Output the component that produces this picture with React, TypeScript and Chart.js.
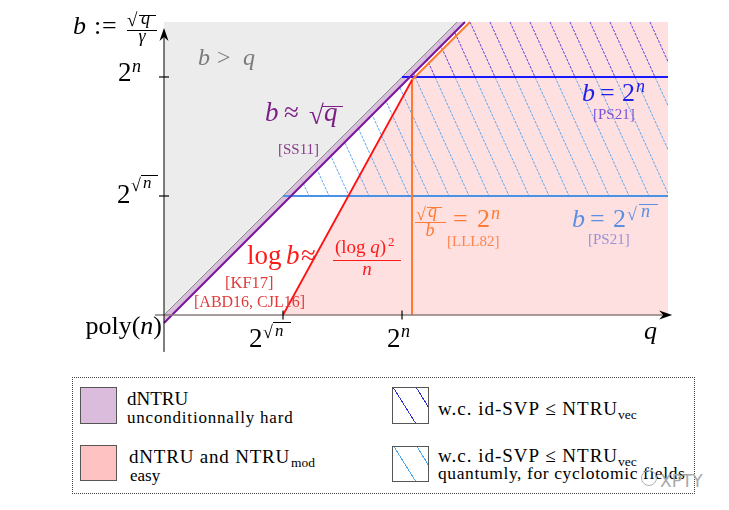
import React, { useEffect, useRef } from 'react';
import { Chart, registerables } from 'chart.js';
Chart.register(...registerables);

// ---------- data (conceptual units: 1 unit = one "tick step") ----------
const X_MAX = 4.235;
const Y_MAX = 2.462;
const xTickValues = [1, 2];
const yTickValues = [1, 2];
const grayDiagonal = [{ x: 0, y: 0 }, { x: 2.462, y: 2.462 }];
const purpleDiagonal = [{ x: 0, y: -0.067 }, { x: 2.529, y: 2.462 }];
const redCurve = [{ x: 1, y: 0 }, { x: 2.084, y: 1.975 }];
const orangeCurve = [{ x: 2.084, y: 0 }, { x: 2.084, y: 1.975 }, { x: 2.571, y: 2.462 }];
const blueLevel = [{ x: 2, y: 2 }, { x: X_MAX, y: 2 }];
const lightBlueLevel = [{ x: 1, y: 1 }, { x: X_MAX, y: 1 }];
const grayRegion = [{ x: 0, y: 0 }, { x: 0, y: Y_MAX }, { x: 2.462, y: Y_MAX }];
const hardBand = [{ x: 0, y: 0 }, { x: 2.462, y: Y_MAX }, { x: 2.529, y: Y_MAX }, { x: 0, y: -0.067 }];
const easyRegion = [{ x: 1, y: 0 }, { x: X_MAX, y: 0 }, { x: X_MAX, y: Y_MAX }, { x: 2.571, y: Y_MAX }, { x: 2.084, y: 1.975 }];
const quantumHatch = [{ x: 1, y: 1 }, { x: X_MAX, y: 1 }, { x: X_MAX, y: 2 }, { x: 2, y: 2 }];
const classicHatch = [{ x: 2, y: 2 }, { x: X_MAX, y: 2 }, { x: X_MAX, y: Y_MAX }, { x: 2.462, y: Y_MAX }];
const xAxisExtent = [-0.076, 4.27];
const yAxisExtent = [-0.31, 2.412];

const W = 729;
const SERIF = "'Liberation Serif','Times New Roman',serif";

function makeHatch(color: string) {
  const c = document.createElement('canvas');
  const w = 20, h = 44;
  c.width = w; c.height = h;
  const g = c.getContext('2d')!;
  g.strokeStyle = color;
  g.lineWidth = 1;
  g.setLineDash([2.8, 1.23]);
  for (const off of [-w, 0, w]) {
    g.beginPath();
    g.moveTo(off, 0);
    g.lineTo(off + w, h);
    g.stroke();
  }
  return g.createPattern(c, 'repeat')!;
}

function T({ x, y, s, c = '#000', i = false, a = 'start', ls = 0, f = SERIF, children }: any) {
  const style: any = {
    position: 'absolute', top: y - 0.8374 * s, fontSize: s, lineHeight: 1, color: c,
    fontStyle: i ? 'italic' : 'normal', whiteSpace: 'nowrap', fontFamily: f, letterSpacing: ls,
  };
  if (a === 'start') style.left = x;
  else if (a === 'end') style.right = W - x;
  else { style.left = x; style.transform = 'translateX(-50%)'; }
  return <span style={style}>{children}</span>;
}

function Bar({ x1, x2, y, c = '#000', w = 1 }: any) {
  return <div style={{ position: 'absolute', left: x1, top: y - w / 2, width: x2 - x1, height: w, background: c }} />;
}

function Swatch({ x, y, w, h, bg }: any) {
  return <div style={{ position: 'absolute', left: x, top: y, width: w, height: h, background: bg, border: '1.5px solid #555', boxSizing: 'border-box' }} />;
}

const hatchCss = (col: string) =>
  `repeating-linear-gradient(58deg, transparent 0px, transparent 18.5px, ${col} 18.5px, ${col} 19.5px)`;

export default function App() {
  const ref = useRef<HTMLCanvasElement>(null);
  useEffect(() => {
    const canvas = ref.current!;
    const dark = makeHatch('#5b3fe0');
    const light = makeHatch('#5fa6f0');
    const regions = {
      id: 'regions',
      beforeDatasetsDraw(chart: any) {
        const { ctx, scales: { x, y } } = chart;
        const poly = (pts: any[], fill: any) => {
          ctx.beginPath();
          pts.forEach((p, k) => {
            const X = x.getPixelForValue(p.x), Y = y.getPixelForValue(p.y);
            k ? ctx.lineTo(X, Y) : ctx.moveTo(X, Y);
          });
          ctx.closePath();
          ctx.fillStyle = fill;
          ctx.fill();
        };
        ctx.save();
        poly(grayRegion, '#ececec');
        poly(easyRegion, '#fee0e0');
        poly(quantumHatch, light);
        poly(classicHatch, dark);
        poly(hardBand, 'rgba(212,180,214,0.85)');
        ctx.restore();
      },
      afterDatasetsDraw(chart: any) {
        const { ctx, scales: { x, y } } = chart;
        const x0 = x.getPixelForValue(0), y0 = y.getPixelForValue(0);
        ctx.save();
        // x axis
        const xa = x.getPixelForValue(xAxisExtent[0]), xb = x.getPixelForValue(xAxisExtent[1]);
        ctx.strokeStyle = '#8a7c7c'; ctx.lineWidth = 1.6;
        ctx.beginPath(); ctx.moveTo(xa, y0); ctx.lineTo(xb - 6, y0); ctx.stroke();
        ctx.fillStyle = '#000';
        ctx.beginPath(); ctx.moveTo(xb, y0); ctx.lineTo(xb - 13, y0 - 4.5); ctx.lineTo(xb - 9, y0); ctx.lineTo(xb - 13, y0 + 4.5); ctx.closePath(); ctx.fill();
        // y axis
        const ya = y.getPixelForValue(yAxisExtent[0]), yb = y.getPixelForValue(yAxisExtent[1]);
        ctx.strokeStyle = '#000'; ctx.lineWidth = 1;
        ctx.beginPath(); ctx.moveTo(x0, ya); ctx.lineTo(x0, yb + 6); ctx.stroke();
        ctx.beginPath(); ctx.moveTo(x0, yb); ctx.lineTo(x0 - 4.5, yb + 13); ctx.lineTo(x0, yb + 9); ctx.lineTo(x0 + 4.5, yb + 13); ctx.closePath(); ctx.fill();
        // ticks
        ctx.lineWidth = 1.2;
        xTickValues.forEach(v => {
          const X = x.getPixelForValue(v);
          ctx.beginPath(); ctx.moveTo(X, y0 - 4.5); ctx.lineTo(X, y0 + 4.5); ctx.stroke();
        });
        yTickValues.forEach(v => {
          const Y = y.getPixelForValue(v);
          ctx.beginPath(); ctx.moveTo(x0 - 5, Y); ctx.lineTo(x0 + 5, Y); ctx.stroke();
        });
        ctx.restore();
      },
    };
    const line = (data: any[], color: string, width: number, order: number) => ({
      data, borderColor: color, borderWidth: width, showLine: true, pointRadius: 0,
      fill: false, tension: 0, clip: false as any, order,
    });
    const chart = new Chart(canvas, {
      type: 'scatter',
      data: {
        datasets: [
          line(grayDiagonal, '#8c8c8c', 1, 6),
          line(lightBlueLevel, '#4a92e4', 2, 5),
          line(blueLevel, '#1a1aff', 2, 4),
          line(orangeCurve, '#ff7a30', 2, 3),
          line(redCurve, '#ff1010', 1.8, 2),
          line(purpleDiagonal, '#7a14a0', 2, 1),
        ] as any,
      },
      options: {
        responsive: false,
        animation: false,
        maintainAspectRatio: false,
        layout: { padding: { left: 164, right: W - 668, top: 22, bottom: 360 - 315 } },
        scales: {
          x: { type: 'linear', min: 0, max: X_MAX, display: false },
          y: { type: 'linear', min: 0, max: Y_MAX, display: false },
        },
        plugins: { legend: { display: false }, tooltip: { enabled: false } },
        events: [],
      },
      plugins: [regions],
    });
    return () => chart.destroy();
  }, []);

  const purple = '#7b1f86';
  const blue = '#2020e8';
  const lblue = '#5b8fe6';
  const orange = '#ff7a33';
  const red = '#ff1a1a';

  return (
    <div style={{ position: 'relative', width: W, height: 510, overflow: 'hidden', background: '#fff', fontFamily: SERIF }}>
      <style>{'body{margin:0}'}</style>
      <canvas ref={ref} width={W} height={360} style={{ position: 'absolute', left: 0, top: 0, width: W, height: 360 }} />

      {/* y-axis title b := sqrt(q)/gamma */}
      <T x={73} y={35} s={26} i>b</T>
      <T x={94} y={35} s={26}>:</T>
      <T x={102} y={35} s={26}>=</T>
      <T x={127} y={26} s={19}>√</T>
      <T x={141} y={24} s={18} i>q</T>
      <Bar x1={139} x2={156} y={15.5} />
      <Bar x1={127} x2={157} y={30} />
      <T x={142} y={42} s={18} i a="middle">γ</T>

      {/* y tick labels */}
      <T x={118} y={82} s={27}>2</T>
      <T x={132} y={72} s={18} i>n</T>
      <T x={117} y={204} s={27}>2</T>
      <T x={131} y={191} s={18}>√</T>
      <T x={143} y={188} s={17} i>n</T>
      <Bar x1={141} x2={158} y={175.5} />
      <T x={162} y={335} s={26} a="end">poly(<i>n</i>)</T>

      {/* x tick labels */}
      <T x={249} y={348} s={27}>2</T>
      <T x={263} y={338} s={18}>√</T>
      <T x={275} y={336} s={17} i>n</T>
      <Bar x1={273} x2={291} y={322.5} />
      <T x={387} y={348} s={27}>2</T>
      <T x={401} y={337} s={18} i>n</T>
      <T x={644} y={340} s={26} i>q</T>

      {/* region labels */}
      <T x={198} y={65} s={24} c="#7a7a7a" i>b</T>
      <T x={217} y={65} s={24} c="#7a7a7a">&gt;</T>
      <T x={243} y={65} s={24} c="#7a7a7a" i>q</T>

      <T x={265} y={122} s={27} c={purple} i>b</T>
      <T x={284} y={122} s={27} c={purple}>≈</T>
      <T x={309} y={125} s={27} c={purple}>√</T>
      <T x={324} y={122} s={27} c={purple} i>q</T>
      <Bar x1={322} x2={343} y={106.5} c={purple} w={1.3} />
      <T x={278} y={155} s={15} c="#8a3c8a">[SS11]</T>

      <T x={582} y={102} s={26} c={blue} i>b</T>
      <T x={600} y={102} s={26} c={blue}>=</T>
      <T x={622} y={102} s={26} c={blue}>2</T>
      <T x={636} y={92} s={18} c={blue} i>n</T>
      <T x={593} y={120} s={15} c="#7a52d8">[PS21]</T>

      <T x={572} y={228} s={26} c={lblue} i>b</T>
      <T x={590} y={228} s={26} c={lblue}>=</T>
      <T x={613} y={228} s={26} c={lblue}>2</T>
      <T x={627} y={220} s={18} c={lblue}>√</T>
      <T x={641} y={217} s={18} c={lblue} i>n</T>
      <Bar x1={639} x2={658} y={204.5} c={lblue} />
      <T x={588} y={245} s={15} c="#9a90d8">[PS21]</T>

      <T x={416} y={220} s={18} c={orange}>√</T>
      <T x={428} y={217} s={18} c={orange} i>q</T>
      <Bar x1={427} x2={442} y={207} c={orange} />
      <Bar x1={415} x2={446} y={222} c={orange} />
      <T x={430} y={236} s={18} c={orange} i a="middle">b</T>
      <T x={453} y={228} s={26} c={orange}>=</T>
      <T x={477} y={228} s={26} c={orange}>2</T>
      <T x={491} y={219} s={18} c={orange} i>n</T>
      <T x={447} y={247} s={15} c="#ff8550">[LLL82]</T>

      <T x={247} y={265} s={27} c={red}>log</T>
      <T x={286} y={265} s={27} c={red} i>b</T>
      <T x={301} y={265} s={27} c={red}>≈</T>
      <T x={335} y={253} s={19} c={red}>(log <i>q</i>)</T>
      <T x={388} y={246} s={13} c={red}>2</T>
      <Bar x1={333} x2={401} y={260} c={red} />
      <T x={367} y={275} s={19} c={red} i a="middle">n</T>
      <T x={225} y={289} s={16.5} c="#e03c3c">[KF17]</T>
      <T x={194} y={307} s={16} c="#e03c3c">[ABD16, CJL16]</T>

      {/* legend */}
      <div style={{ position: 'absolute', left: 72, top: 377, width: 623, height: 117, border: '1px dotted #444', boxSizing: 'border-box' }} />
      <Swatch x={80} y={387} w={37} h={37} bg="#dcbcdc" />
      <T x={127} y={405} s={19}>dNTRU</T>
      <T x={127} y={423} s={17} ls={0.8}>unconditionnally hard</T>
      <Swatch x={80} y={445} w={37} h={36} bg="#ffc2c2" />
      <T x={129} y={463} s={19} ls={0.8}>dNTRU and NTRU</T>
      <T x={291} y={467} s={13.5}>mod</T>
      <T x={130} y={481} s={17}>easy</T>
      <Swatch x={392} y={387} w={37} h={37} bg={hatchCss('#3030d0')} />
      <T x={438} y={415} s={19} ls={1}>w.c. id-SVP ≤ NTRU</T>
      <T x={618} y={419} s={13.5}>vec</T>
      <Swatch x={392} y={446} w={37} h={36} bg={hatchCss('#4aa6f0')} />
      <T x={438} y={462} s={19} ls={1}>w.c. id-SVP ≤ NTRU</T>
      <T x={618} y={466} s={13.5}>vec</T>
      <T x={438} y={480} s={17.5} ls={0.6}>quantumly, for cyclotomic fields</T>
      <div style={{ position: 'absolute', left: 641, top: 470, width: 16, height: 16, borderRadius: 8, border: '1px solid #b0b0b0', boxSizing: 'border-box' }} />
      <T x={660} y={487} s={17} c="#a8a8a8" f="'DejaVu Sans',sans-serif">XPTY</T>
    </div>
  );
}
